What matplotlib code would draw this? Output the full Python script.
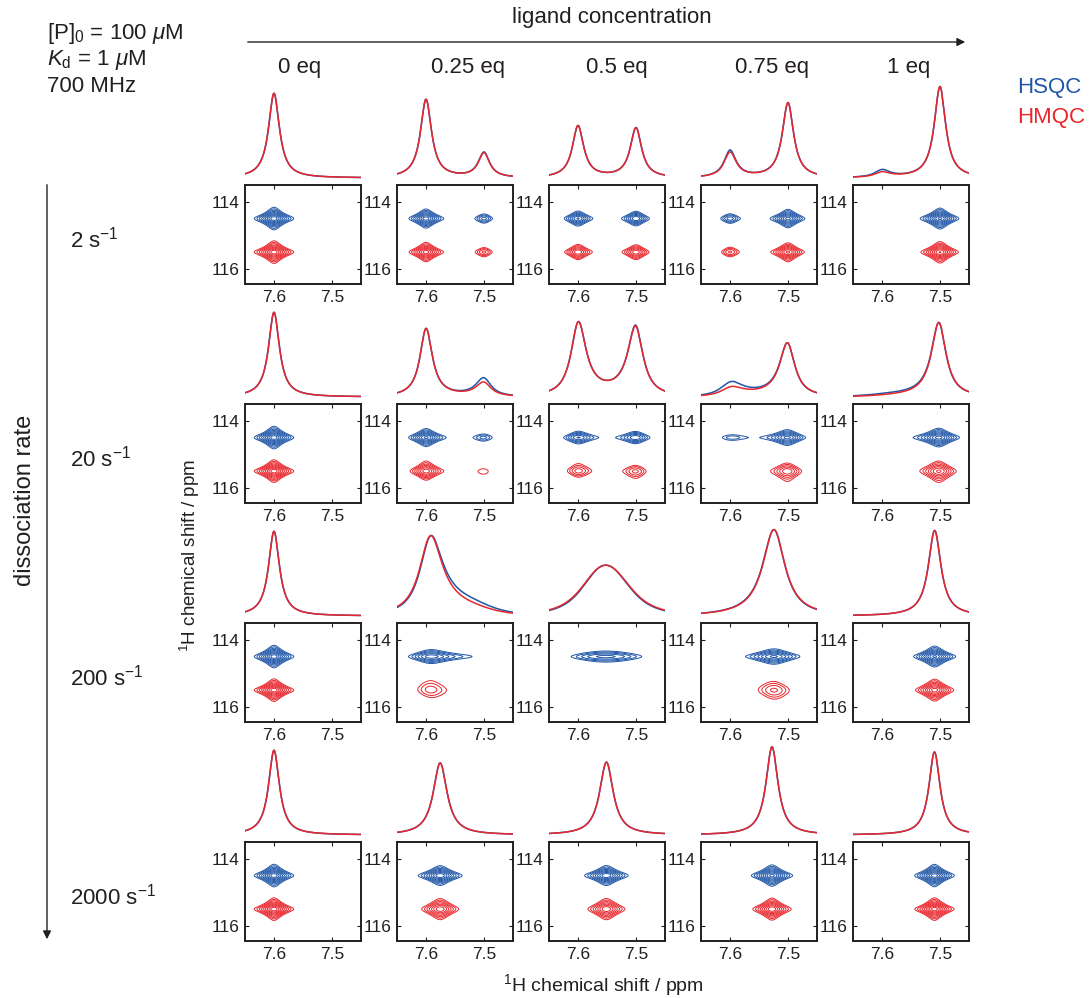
import numpy as np
import matplotlib
matplotlib.use("Agg")
import matplotlib.pyplot as plt

plt.rcParams['font.family'] = ['Liberation Sans', 'DejaVu Sans']
plt.rcParams['mathtext.fontset'] = 'custom'
plt.rcParams['mathtext.rm'] = 'Liberation Sans'
plt.rcParams['mathtext.it'] = 'Liberation Sans:italic'
plt.rcParams['text.color'] = '#231f20'

## sample / spectrometer settings
P0 = 100.0          # protein concentration, uM
KD = 1.0            # dissociation constant, uM
SF_H = 700.0        # 1H frequency, MHz
SF_N = 70.96        # 15N frequency, MHz
shift_free = 7.60   # 1H shift of free protein, ppm
shift_bound = 7.50  # 1H shift of complex, ppm
R2_H = 50.0         # s^-1
R2_N = 50.0         # s^-1
DELTA = 2.7e-3      # HMQC transfer delay 1/(4J), s

equivalents = [0, 0.25, 0.5, 0.75, 1]
eq_labels = ['0 eq', '0.25 eq', '0.5 eq', '0.75 eq', '1 eq']
koff_values = [2, 20, 200, 2000]
koff_labels = ['2 s$^{-1}$', '20 s$^{-1}$', '200 s$^{-1}$', '2000 s$^{-1}$']

# peak height of each 1D trace (0 eq trace = 1)
trace_height = [
    [1.00, 0.93, 0.62, 0.89, 1.08],
    [1.00, 0.81, 0.89, 0.64, 0.88],
    [1.00, 0.95, 0.60, 1.02, 1.01],
    [1.00, 0.85, 0.86, 1.04, 0.98],
]

n15_centre = {'HSQC': 114.5, 'HMQC': 115.5}
colours = {'HSQC': '#1f56a8', 'HMQC': '#e8262c'}

# contour levels relative to the 0 eq peak
levels = 0.1 * 1.3 ** np.arange(9)

## spectral grids
h_ppm = np.linspace(7.45, 7.65, 301)
n_off = np.linspace(-2.1, 2.1, 211)        # 15N offset from peak, ppm
w2 = 2 * np.pi * (h_ppm - 7.55) * SF_H
w1 = 2 * np.pi * n_off * SF_N
wH = 2 * np.pi * (np.array([shift_free, shift_bound]) - 7.55) * SF_H


def bound_fraction(eq):
    L0 = eq * P0
    b = P0 + L0 + KD
    return (b - np.sqrt(b * b - 4 * P0 * L0)) / (2 * P0)


def kex_matrix(koff, pb):
    kab = koff * pb / (1 - pb)
    return np.array([[-kab, koff], [kab, -koff]])


def resolvent(w, L):
    M = 1j * w[:, None, None] * np.eye(2) - L
    return np.linalg.inv(M)


def propagator(L, t):
    lam, V = np.linalg.eig(L)
    Vi = np.linalg.inv(V)
    return np.einsum('ij,tj,jk->tik', V, np.exp(np.outer(t, lam)), Vi)


def spectra(koff, eq):
    pb = bound_fraction(eq)
    p = np.array([1 - pb, pb])
    K = kex_matrix(koff, pb)
    I2 = np.eye(2)
    OH = np.diag(wH)

    # direct 1H dimension
    LH = 1j * OH - R2_H * I2 + K
    a = resolvent(w2, LH).real.sum(axis=1)          # (n2, 2)

    # HSQC: 15N coherence, same 15N shift in both states
    LN = -R2_N * I2 + K
    b_sq = np.einsum('nij,j->ni', resolvent(w1, LN).real, p)

    # HMQC: delta - t1/2 (DQ) - 180(1H) - t1/2 (ZQ) - delta
    t = np.arange(0, 0.3, 0.25e-3)
    LDQ = 1j * OH - R2_N * I2 + K
    LZQ = -1j * OH - R2_N * I2 + K
    pre = propagator(1j * OH - R2_H * I2 + K, np.array([DELTA]))[0]
    post = propagator(-1j * OH - R2_H * I2 + K, np.array([DELTA]))[0]
    M = np.einsum('tij,tjk->tik', propagator(LZQ, t / 2), propagator(LDQ, t / 2))
    m = post @ M @ (pre @ p)
    wt = np.full(t.size, t[1] - t[0])
    wt[0] *= 0.5
    F = np.exp(-1j * np.outer(w1, t)) @ (m * wt[:, None])
    b_mq = F.real

    return {'HSQC': b_sq @ a.T, 'HMQC': b_mq @ a.T}


ref = spectra(koff_values[0], 0.0)
norm = {k: v.max() for k, v in ref.items()}

## figure layout in pixels
W, H = 1090, 998
fig = plt.figure(figsize=(W / 100, H / 100), dpi=100)


def px_axes(x0, y0, w, h):
    return fig.add_axes([x0 / W, 1 - (y0 + h) / H, w / W, h / H])


col_x = [245 + 152 * c for c in range(5)]
row_y = [185 + 219 * r for r in range(4)]
box_w, box_h = 116, 99

for r, koff in enumerate(koff_values):
    for c, eq in enumerate(equivalents):
        S = spectra(koff, eq)

        # 1D trace above the 2D panel
        ax1 = px_axes(col_x[c], row_y[r] - 105, box_w, 102)
        for exp in ['HSQC', 'HMQC']:
            sky = S[exp].max(axis=0)
            ax1.plot(h_ppm, sky / sky.max() * trace_height[r][c],
                     color=colours[exp], lw=1.1)
        ax1.set_xlim(7.65, 7.45)
        ax1.set_ylim(-0.048, 1.157)
        ax1.axis('off')

        # 2D contour panel
        ax = px_axes(col_x[c], row_y[r], box_w, box_h)
        for exp in ['HSQC', 'HMQC']:
            ax.contour(h_ppm, n15_centre[exp] + n_off, S[exp] / norm[exp],
                       levels=levels, colors=colours[exp], linewidths=0.7)
        ax.set_xlim(7.65, 7.45)
        ax.set_ylim(116.45, 113.5)
        ax.set_xticks([7.6, 7.5])
        ax.set_xticklabels(['7.6', '7.5'])
        ax.set_yticks([114, 116])
        ax.tick_params(direction='in', top=True, right=True, length=3,
                       width=0.8, labelsize=12.5, pad=4, colors='#231f20')
        for sp in ax.spines.values():
            sp.set_linewidth(1.4)
            sp.set_color('#231f20')

## annotations
fs = 16
fig.text(47 / W, 1 - 33 / H, '[P]$_0$ = 100 $\\mu$M', fontsize=fs, va='center')
fig.text(47 / W, 1 - 60 / H, '$K_\\mathrm{d}$ = 1 $\\mu$M', fontsize=fs, va='center')
fig.text(47 / W, 1 - 87 / H, '700 MHz', fontsize=fs, va='center')

fig.text(612 / W, 1 - 18 / H, 'ligand concentration', fontsize=fs,
         ha='center', va='center')
fig.add_artist(matplotlib.patches.FancyArrowPatch(
    (245 / W, 1 - 42 / H), (968 / W, 1 - 42 / H), transform=fig.transFigure,
    arrowstyle='-|>', mutation_scale=12, lw=1.0, color='#231f20'))

label_x = [300, 468, 617, 772, 909]
for c, lab in enumerate(eq_labels):
    fig.text(label_x[c] / W, 1 - 68 / H, lab, fontsize=fs, ha='center',
             va='center')

fig.text(1017 / W, 1 - 87 / H, 'HSQC', fontsize=fs, va='center',
         color=colours['HSQC'])
fig.text(1017 / W, 1 - 117 / H, 'HMQC', fontsize=fs, va='center',
         color=colours['HMQC'])

fig.add_artist(matplotlib.patches.FancyArrowPatch(
    (47 / W, 1 - 182 / H), (47 / W, 1 - 942 / H), transform=fig.transFigure,
    arrowstyle='-|>', mutation_scale=12, lw=1.0, color='#231f20'))
fig.text(25 / W, 1 - 500 / H, 'dissociation rate', fontsize=17,
         rotation=90, ha='center', va='center')

for r, lab in enumerate(koff_labels):
    fig.text(70 / W, 1 - (row_y[r] + 55) / H, lab, fontsize=fs, va='center')

fig.text(190 / W, 1 - 555 / H, '$^{1}$H chemical shift / ppm', fontsize=13.5,
         rotation=90, ha='center', va='center')
fig.text(603 / W, 1 - 985 / H, '$^{1}$H chemical shift / ppm', fontsize=14,
         ha='center', va='center')

fig.savefig('out.png', dpi=100)
